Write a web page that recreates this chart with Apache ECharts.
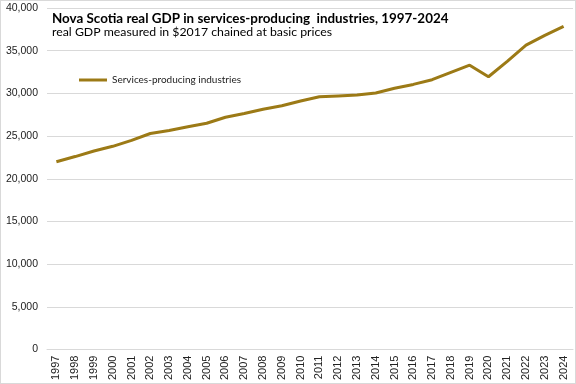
<!DOCTYPE html>
<html><head><meta charset="utf-8">
<script src="https://cdn.jsdelivr.net/npm/echarts@6/dist/echarts.min.js"></script>
<style>html,body{margin:0;padding:0;background:#fff}#c{width:574px;height:382px;border:1px solid #d9d9d9}</style>
</head><body><div id="c"></div>
<script>
const years = ['1997','1998','1999','2000','2001','2002','2003','2004','2005','2006','2007','2008','2009','2010','2011','2012','2013','2014','2015','2016','2017','2018','2019','2020','2021','2022','2023','2024'];
const services = [22000,22600,23250,23800,24500,25300,25650,26100,26500,27200,27650,28150,28550,29100,29600,29700,29800,30050,30600,31050,31600,32450,33300,31950,33750,35650,36800,37850];
const seriesName = 'Services-producing industries';
const titleText = 'Nova Scotia real GDP in services-producing  industries, 1997-2024';
const subtitleText = 'real GDP measured in $2017 chained at basic prices';

const chart = echarts.init(document.getElementById('c'));
chart.setOption({
  animation:false,
  title:{text:titleText, subtext:subtitleText, left:46, top:6, itemGap:1,
    textStyle:{fontFamily:'Lato', fontWeight:'bold', fontSize:13.4, color:'#000'},
    subtextStyle:{fontFamily:'Lato', fontSize:12.3, color:'#000'}},
  legend:{left:73, top:69, itemWidth:28, itemHeight:3, itemGap:3, icon:'rect',
    textStyle:{fontFamily:'Lato', fontSize:10, color:'#222'},
    data:[seriesName]},
  grid:{left:46, right:2, top:7, bottom:33},
  xAxis:{type:'category', data:years, boundaryGap:true,
    axisLine:{show:true, lineStyle:{color:'#d9d9d9'}}, axisTick:{show:false},
    axisLabel:{rotate:90, interval:0, fontFamily:'Liberation Sans', fontSize:11, color:'#222', margin:6}},
  yAxis:{type:'value', min:0, max:40000, interval:5000,
    axisLine:{show:false}, axisTick:{show:false},
    splitLine:{lineStyle:{color:'#d9d9d9'}},
    axisLabel:{fontFamily:'Liberation Sans', fontSize:10.5, color:'#222', margin:9,
      formatter:v=>v.toLocaleString('en-US')}},
  series:[{name:seriesName, type:'line', data:services, showSymbol:false,
    lineStyle:{color:'#9C7A16', width:3}, itemStyle:{color:'#9C7A16'}}]
});
</script></body></html>
